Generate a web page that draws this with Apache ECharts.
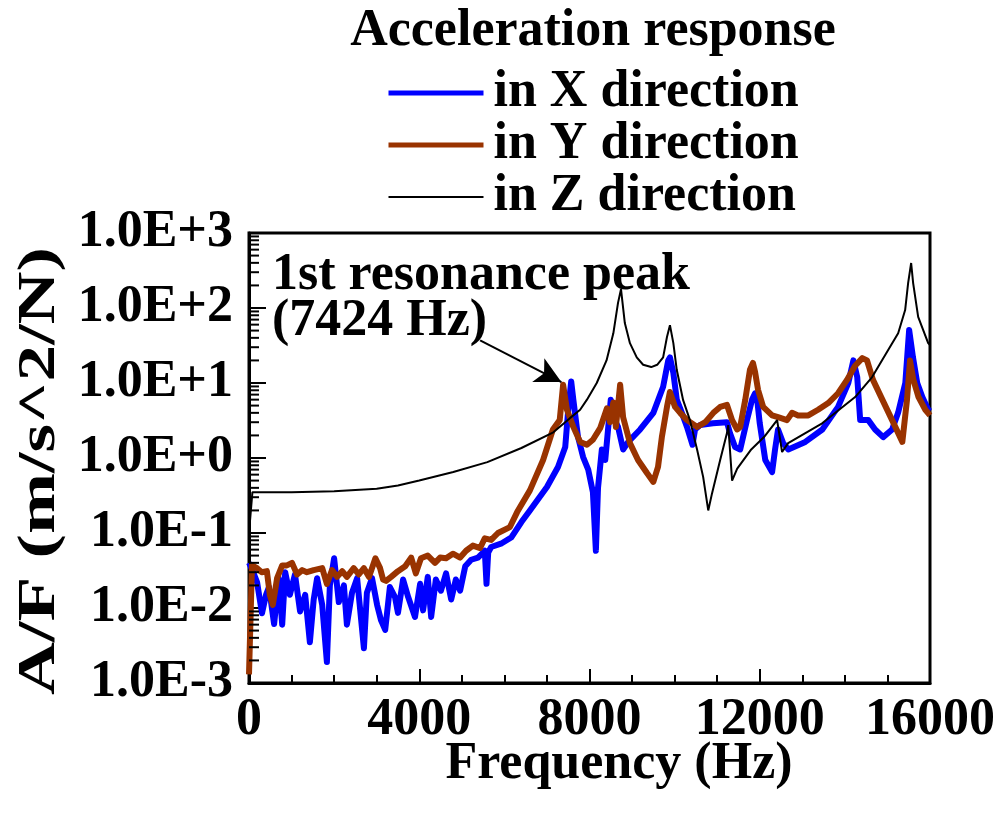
<!DOCTYPE html>
<html>
<head>
<meta charset="utf-8">
<script src="https://cdn.jsdelivr.net/npm/echarts@6/dist/echarts.min.js"></script>
<style>
html,body{margin:0;padding:0;background:#fff;}
#chart{width:999px;height:814px;}
</style>
</head>
<body>
<div id="chart"></div>
<script>
// ---------------- data ----------------
const xTicks = [0, 4000, 8000, 12000, 16000];
const legendTitle = 'Acceleration response';
const seriesNames = ['in X direction', 'in Y direction', 'in Z direction'];

const xDirFreq = [0,100,190,305,400,470,590,700,780,850,960,1080,1200,1320,1430,1520,1600,1720,1830,1900,2000,2110,2230,2300,2420,2540,2700,2770,2890,3010,3100,3200,3310,3430,3500,3620,3740,3900,4020,4090,4200,4280,4390,4510,4630,4750,4860,4960,5080,5220,5380,5540,5580,5620,5690,5920,6160,6400,6600,7000,7260,7430,7500,7570,7620,7730,7850,7970,8080,8150,8200,8290,8370,8500,8560,8670,8790,8910,9190,9500,9730,9850,9890,9970,10050,10170,10290,10420,10480,10600,10900,11230,11300,11420,11540,11700,11820,11890,11940,12000,12130,12290,12360,12430,12550,12670,13070,13470,13840,14080,14200,14290,14360,14550,14710,14900,15110,15250,15420,15510,15600,15700,15820,15960,16000];
const xDirVals = [0.04,0.03,0.022,0.0085,0.015,0.019,0.0061,0.025,0.006,0.03,0.015,0.028,0.009,0.015,0.0035,0.013,0.025,0.011,0.0019,0.02,0.046,0.012,0.02,0.006,0.016,0.025,0.0029,0.016,0.025,0.011,0.0069,0.0051,0.019,0.014,0.0086,0.024,0.014,0.0076,0.021,0.0093,0.026,0.0076,0.024,0.017,0.029,0.013,0.024,0.017,0.036,0.044,0.047,0.058,0.021,0.055,0.065,0.072,0.087,0.14,0.2,0.41,0.76,1.4,4.4,10.5,6,1.9,1.03,0.7,0.35,0.058,0.4,1.3,0.94,6,3.5,2.6,1.3,1.64,2.4,4,8.9,20,22,13.6,6,4,2.6,1.5,2.4,2.75,2.9,3,2.15,1.4,1.3,3.2,6,7.3,6,2.9,0.94,0.65,1.3,2.4,1.58,1.3,1.64,2.4,4.8,10,20,12,3.2,3.2,2.4,1.9,2.4,4,10,51,22,10,6.5,4.4,4.2];

const yDirFreq = [0,70,190,300,420,490,560,660,780,890,1010,1130,1250,1360,1520,1720,1830,1950,2070,2190,2300,2460,2580,2700,2820,2970,3080,3150,3220,3340,3500,3670,3810,3920,4040,4200,4370,4490,4630,4790,4960,5100,5260,5430,5540,5690,5850,6130,6300,6600,6910,7140,7300,7380,7470,7620,7780,7940,8080,8250,8410,8480,8560,8620,8720,8790,8950,9140,9350,9500,9610,9700,9820,9890,10010,10130,10290,10530,10720,10910,11070,11230,11350,11470,11540,11660,11770,11840,11890,11960,12080,12290,12430,12640,12760,12900,13140,13370,13610,13840,14050,14240,14410,14520,14660,14880,15110,15350,15460,15530,15610,15730,15890,16000];
const yDirVals = [0.0013,0.037,0.034,0.03,0.031,0.015,0.011,0.025,0.037,0.037,0.04,0.028,0.032,0.03,0.032,0.034,0.021,0.032,0.026,0.031,0.026,0.034,0.028,0.034,0.026,0.046,0.034,0.024,0.023,0.026,0.031,0.036,0.047,0.029,0.046,0.05,0.04,0.047,0.046,0.053,0.047,0.058,0.068,0.063,0.085,0.081,0.1,0.12,0.19,0.37,0.94,2.4,3.2,9.5,4.4,2.6,1.64,1.5,1.75,2.5,4.6,3.0,5.5,2.6,9.5,3.5,1.58,0.94,0.63,0.48,0.76,1.9,4.8,7.6,4.8,4.0,3.2,2.6,3.0,4.0,4.8,5.1,3.2,2.4,2.6,6.0,15,18.5,14,8.1,4.8,3.7,3.5,3.2,4.0,3.7,3.7,4.4,5.4,7.3,11,17,21.5,20,11,6.0,3.2,1.64,6.0,20,11,6.5,4.4,3.7];

const zDirFreq = [0,80,1000,2000,3000,3500,4000,4800,5600,6400,7150,7540,7780,7940,8170,8400,8560,8670,8740,8830,8950,9110,9260,9450,9590,9730,9820,9890,9970,10050,10200,10360,10530,10670,10790,10880,11070,11230,11260,11350,11470,11800,12100,12408,12525,12667,13466,14241,14640,15017,15252,15416,15486,15557,15604,15722,15957,16000];
const zDirVals = [0.1,0.35,0.35,0.36,0.39,0.43,0.5,0.65,0.88,1.36,2.2,3.4,4.4,6.0,10,20,46,117,178,63,34,22,17.5,16.3,17.5,22,41,59,34,15,5.9,3.2,1.28,0.56,0.2,0.34,0.94,2.15,2.75,0.5,0.72,1.3,1.9,3.2,1.2,1.58,2.9,6.5,12,27.5,46,94,215,398,215,76,34,32];

// annotation
const annoLine1 = '1st resonance peak';
const annoLine2 = '(7424 Hz)';
const arrowFrom = [5430, 37];
const arrowTo = [7340, 10.3];

// minor tick values of the log axis (2..9 per decade)
const minorTickVals = [];
for (let e = -3; e < 3; e++) for (let m = 2; m <= 9; m++) minorTickVals.push(+(m * Math.pow(10, e)).toPrecision(3));

// ---------------- chart ----------------
const FONT = '"Liberation Serif","Times New Roman",serif';
const zip = (f, v) => f.map((x, i) => [x, v[i]]);
const lineWidths = [5, 5, 2];

const chart = echarts.init(document.getElementById('chart'), null, {renderer: 'canvas'});
const option = {
  animation: false,
  backgroundColor: '#fff',
  grid: {left: 249, right: 69, top: 233, bottom: 131, show: true, borderColor: '#000', borderWidth: 3, backgroundColor: 'transparent'},
  legend: {
    data: seriesNames.map((n, i) => ({name: n, lineStyle: {width: lineWidths[i]}, itemStyle: {opacity: 0}})),
    orient: 'vertical',
    left: 381, top: 62,
    itemWidth: 95, itemHeight: 20, itemGap: 0,
    itemStyle: {opacity: 0},
    textStyle: {fontFamily: FONT, fontWeight: 'bold', fontSize: 52, color: '#000', lineHeight: 50, padding: [0,0,0,5]},
    selectedMode: false
  },
  xAxis: {
    type: 'value', min: 0, max: 16000, interval: 4000,
    axisLine: {show: true, lineStyle: {color: '#000', width: 3}},
    axisTick: {show: true, inside: true, length: 14, lineStyle: {color: '#000', width: 2}},
    minorTick: {show: true, splitNumber: 4, length: 8, lineStyle: {color: '#000', width: 2}},
    splitLine: {show: false},
    axisLabel: {fontFamily: FONT, fontWeight: 'bold', fontSize: 52, color: '#000', margin: 12,
      formatter: v => xTicks.indexOf(v) >= 0 ? String(v) : ''}
  },
  yAxis: {
    type: 'log', logBase: 10, min: 0.001, max: 1000,
    axisLine: {show: true, lineStyle: {color: '#000', width: 3}},
    axisTick: {show: true, inside: true, length: 17, lineStyle: {color: '#000', width: 2}},
    splitLine: {show: false},
    axisLabel: {fontFamily: FONT, fontWeight: 'bold', fontSize: 52, color: '#000', margin: 16,
      formatter: v => {const e = Math.round(Math.log10(v)); return '1.0E' + (e < 0 ? '-' : '+') + Math.abs(e);}}
  },
  series: [
    {name: seriesNames[0], type: 'line', data: zip(xDirFreq, xDirVals), showSymbol: false, symbol: 'none',
      lineStyle: {color: '#0000ff', width: 6, join: 'round'}, itemStyle: {color: '#0000ff'}, z: 2},
    {name: seriesNames[1], type: 'line', data: zip(yDirFreq, yDirVals), showSymbol: false, symbol: 'none',
      lineStyle: {color: '#993300', width: 6, join: 'round'}, itemStyle: {color: '#993300'}, z: 3,
      markLine: {silent: true, symbol: ['none', 'arrow'], symbolSize: [20, 26], label: {show: false},
        lineStyle: {color: '#000', width: 2, type: 'solid'},
        data: [[{coord: arrowFrom}, {coord: arrowTo}]]}},
    {name: seriesNames[2], type: 'line', data: zip(zDirFreq, zDirVals), showSymbol: false, symbol: 'none',
      lineStyle: {color: '#000', width: 2}, itemStyle: {color: '#000'}, z: 4},
    {name: 'minorTicks', type: 'custom', silent: true, clip: false, z: 5,
      data: minorTickVals.map(v => [0, v]),
      renderItem: (params, api) => {
        const p = api.coord([0, api.value(1)]);
        return {type: 'line', shape: {x1: p[0], y1: p[1], x2: p[0] + 10, y2: p[1]}, style: {stroke: '#000', lineWidth: 2}};
      }}
  ],
  graphic: [
    {type: 'text', x: 593, y: 32, style: {text: legendTitle, font: 'bold 52px ' + FONT, fill: '#000', align: 'center', verticalAlign: 'middle'}},
    {type: 'text', x: 272, y: 276, style: {text: annoLine1, font: 'bold 52px ' + FONT, fill: '#000', align: 'left', verticalAlign: 'middle'}},
    {type: 'text', x: 272, y: 322, style: {text: annoLine2, font: 'bold 52px ' + FONT, fill: '#000', align: 'left', verticalAlign: 'middle'}},
    {type: 'text', x: 619, y: 765, style: {text: 'Frequency (Hz)', font: 'bold 52px ' + FONT, fill: '#000', align: 'center', verticalAlign: 'middle'}},
    {type: 'text', x: 41, y: 471, rotation: Math.PI / 2, scaleX: 1.41, style: {text: 'A/F (m/s^2/N)', font: 'bold 52px ' + FONT, fill: '#000', align: 'center', verticalAlign: 'middle'}}
  ]
};
chart.setOption(option);
</script>
</body>
</html>
